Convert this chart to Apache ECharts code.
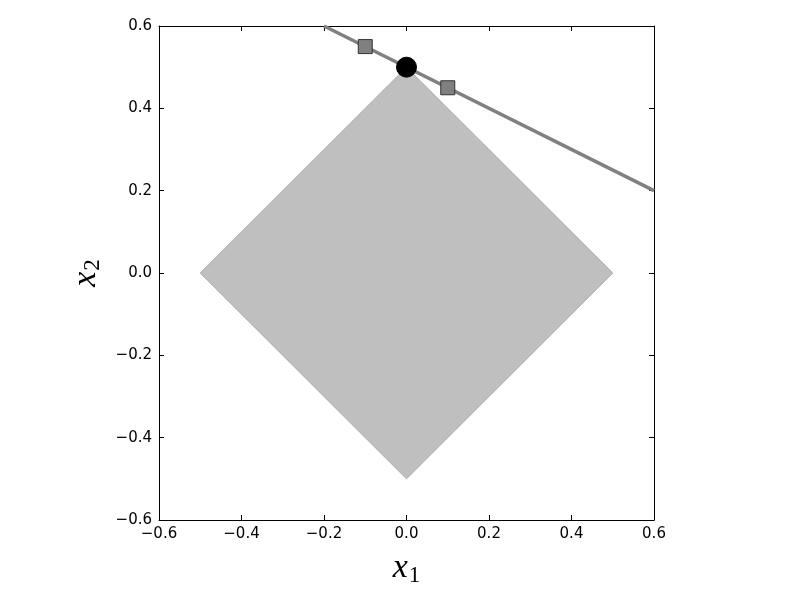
<!DOCTYPE html>
<html><head><meta charset="utf-8">
<script src="https://cdn.jsdelivr.net/npm/echarts@6/dist/echarts.min.js"></script>
<style>html,body{margin:0;padding:0;background:#fff}#c{width:800px;height:600px}</style>
</head><body><div id="c"></div>
<script>
const diamondX = [0.5, 0, -0.5, 0];
const diamondY = [0, 0.5, 0, -0.5];
const lineX = [-0.2, 0.6];
const lineY = [0.6, 0.2];
const squareX = [-0.1, 0.1];
const squareY = [0.55, 0.45];
const pointX = [0];
const pointY = [0.5];
const axisMin = -0.6, axisMax = 0.6, axisStep = 0.2;

const fmt = v => (Math.abs(v) < 1e-9 ? 0 : v).toFixed(1).replace('-', '\u2212');
const tickFont = {fontFamily: 'DejaVu Sans', fontSize: 15, color: '#000'};
const nameRich = {
  i: {fontFamily: 'Liberation Serif', fontStyle: 'italic', fontSize: 34, color: '#000'},
  s: {fontFamily: 'Liberation Serif', fontSize: 23, color: '#000', padding: [14, 0, 0, 1]}
};

function mkAxis(pos, show, extra) {
  return Object.assign({
    type: 'value', min: axisMin, max: axisMax, interval: axisStep, position: pos,
    axisLine: {show: true, onZero: false, lineStyle: {color: '#000', width: 1}},
    axisTick: {show: true, inside: true, length: 5, lineStyle: {color: '#000', width: 1}},
    axisLabel: show ? Object.assign({formatter: fmt, margin: 7}, tickFont) : {show: false},
    splitLine: {show: false}
  }, extra || {});
}

const chart = echarts.init(document.getElementById('c'), null, {renderer: 'canvas'});
chart.setOption({
  animation: false,
  grid: {left: 159, right: 146, top: 26, bottom: 80, show: false},
  xAxis: [
    mkAxis('bottom', true, {
      name: '{i|x}{s|1}', nameLocation: 'middle', nameGap: 30,
      nameTextStyle: {rich: nameRich}
    }),
    mkAxis('top', false)
  ],
  yAxis: [
    mkAxis('left', true, {
      name: '{i|x}{s|2}', nameLocation: 'middle', nameGap: 52, nameRotate: 90,
      nameTextStyle: {rich: nameRich}
    }),
    mkAxis('right', false)
  ],
  series: [
    {
      type: 'custom', xAxisIndex: 0, yAxisIndex: 0, z: 1,
      data: [0],
      renderItem: function (params, api) {
        const pts = diamondX.map((x, i) => api.coord([x, diamondY[i]]));
        return {type: 'polygon', shape: {points: pts},
          style: {fill: '#bfbfbf', stroke: '#a8a8a8', lineWidth: 1}};
      }
    },
    {
      type: 'line', z: 2, data: lineX.map((x, i) => [x, lineY[i]]),
      showSymbol: false, lineStyle: {color: '#808080', width: 3.5}, silent: true
    },
    {
      type: 'scatter', z: 3, data: squareX.map((x, i) => [x, squareY[i]]),
      symbol: 'rect', symbolSize: 14,
      itemStyle: {color: '#808080', borderColor: '#333', borderWidth: 1, opacity: 1}
    },
    {
      type: 'scatter', z: 4, data: pointX.map((x, i) => [x, pointY[i]]),
      symbol: 'circle', symbolSize: 20,
      itemStyle: {color: '#000', borderColor: '#000', borderWidth: 1, opacity: 1}
    }
  ]
});
</script></body></html>
